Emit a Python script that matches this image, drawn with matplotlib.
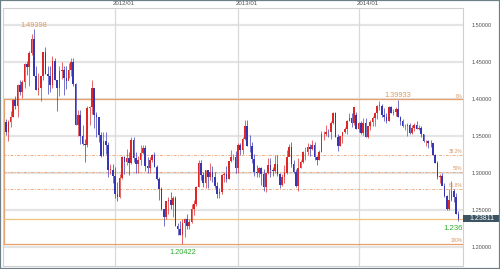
import matplotlib
matplotlib.use("Agg")
import matplotlib.pyplot as plt
import matplotlib.transforms as mtransforms
from matplotlib.patches import Rectangle
import numpy as np
import pandas as pd

# Weekly EUR/USD candles (week starting Monday)
week_start = "2011-02-07"
opens = [1.3690,1.3550,1.3695,1.3750,1.3985,1.3905,1.4183,1.4092,1.4230,1.4478,1.4430,1.4625,1.4808,1.4305,1.4118,1.4153,1.4310,1.4637,1.4340,1.4314,
         1.4190,1.4508,1.4258,1.4151,1.4383,1.4395,1.4285,1.4240,1.4390,1.4495,1.4200,1.3650,1.3790,1.3500,1.3390,1.3380,1.3880,1.3895,1.4145,1.3780,
         1.3750,1.3520,1.3235,1.3435,1.3380,1.3045,1.3045,1.2960,1.2720,1.2680,1.2930,1.3210,1.3150,1.3200,1.3140,1.3450,1.3200,1.3120,1.3180,1.3270,
         1.3340,1.3090,1.3070,1.3180,1.3240,1.3080,1.2915,1.2780,1.2515,1.2400,1.2620,1.2640,1.2570,1.2665,1.2290,1.2245,1.2160,1.2320,1.2385,1.2285,
         1.2335,1.2510,1.2580,1.2815,1.3130,1.2970,1.2860,1.3035,1.2950,1.3020,1.2940,1.2830,1.2710,1.2740,1.2975,1.2985,1.2925,1.3160,1.3215,1.3220,
         1.3070,1.3380,1.3315,1.3460,1.3640,1.3365,1.3360,1.3190,1.3010,1.3000,1.3070,1.2990,1.2815,1.2995,1.3110,1.3045,1.3030,1.3115,1.2985,1.2835,
         1.2945,1.3005,1.3220,1.3350,1.3120,1.3010,1.2830,1.3065,1.3145,1.3280,1.3280,1.3345,1.3325,1.3375,1.3220,1.3175,1.3290,1.3525,1.3525,1.3555,
         1.3550,1.3680,1.3805,1.3490,1.3365,1.3500,1.3560,1.3590,1.3705,1.3740,1.3675,1.3780,1.3590,1.3670,1.3540,1.3680,1.3485,1.3630,1.3690,1.3740,
         1.3805,1.3910,1.3910,1.3790,1.3750,1.3705,1.3890,1.3815,1.3830,1.3870,1.3755,1.3705,1.3630,1.3630,1.3645,1.3540,1.3610,1.3645,1.3595,1.3610,
         1.3525,1.3430,1.3430,1.3410,1.3405,1.3240,1.3130,1.2950,1.2960,1.2830,1.2685,1.2520,1.2630,1.2760,1.2670,1.2450]
highs = [1.3735,1.3710,1.3835,1.4000,1.4035,1.4200,1.4250,1.4250,1.4485,1.4520,1.4650,1.4880,1.4940,1.4450,1.4350,1.4310,1.4640,1.4700,1.4450,1.4450,
         1.4580,1.4560,1.4260,1.4440,1.4500,1.4450,1.4450,1.4480,1.4550,1.4550,1.4220,1.3850,1.3850,1.3650,1.3460,1.3900,1.3900,1.4250,1.4150,1.3820,
         1.3760,1.3560,1.3550,1.3550,1.3420,1.3120,1.3120,1.3080,1.2880,1.2990,1.3230,1.3230,1.3320,1.3280,1.3480,1.3486,1.3290,1.3230,1.3380,1.3385,
         1.3380,1.3210,1.3220,1.3260,1.3280,1.3110,1.2940,1.2810,1.2520,1.2625,1.2670,1.2745,1.2690,1.2690,1.2320,1.2345,1.2385,1.2390,1.2445,1.2375,
         1.2575,1.2640,1.2820,1.3170,1.3170,1.3010,1.3040,1.3045,1.3140,1.3100,1.3020,1.2880,1.2800,1.2990,1.3020,1.3100,1.3160,1.3310,1.3260,1.3300,
         1.3400,1.3400,1.3480,1.3710,1.3710,1.3520,1.3420,1.3250,1.3110,1.3080,1.3075,1.3050,1.3000,1.3200,1.3200,1.3075,1.3240,1.3240,1.3000,1.2985,
         1.3110,1.3305,1.3390,1.3415,1.3175,1.3050,1.3205,1.3170,1.3295,1.3345,1.3400,1.3390,1.3450,1.3420,1.3225,1.3310,1.3570,1.3570,1.3645,1.3590,
         1.3700,1.3830,1.3820,1.3530,1.3500,1.3560,1.3620,1.3710,1.3810,1.3810,1.3895,1.3830,1.3690,1.3700,1.3740,1.3740,1.3620,1.3710,1.3775,1.3825,
         1.3915,1.3967,1.3930,1.3880,1.3810,1.3905,1.3905,1.3870,1.3890,1.3993,1.3775,1.3730,1.3665,1.3680,1.3675,1.3645,1.3680,1.3700,1.3650,1.3635,
         1.3530,1.3445,1.3440,1.3445,1.3405,1.3250,1.3165,1.2990,1.3000,1.2860,1.2700,1.2790,1.2887,1.2790,1.2730,1.2480]
lows =  [1.3520,1.3430,1.3620,1.3750,1.3860,1.3750,1.4050,1.4020,1.4150,1.4330,1.4180,1.4600,1.4305,1.4120,1.4050,1.3970,1.4250,1.4340,1.4070,1.4100,
         1.4150,1.4260,1.3840,1.4040,1.4270,1.4050,1.4140,1.4290,1.4310,1.4170,1.3650,1.3500,1.3390,1.3380,1.3150,1.3350,1.3650,1.3800,1.3610,1.3480,
         1.3425,1.3210,1.3235,1.3260,1.2945,1.2980,1.2860,1.2660,1.2625,1.2665,1.2920,1.2980,1.3110,1.2975,1.3120,1.3150,1.3000,1.3000,1.3110,1.3250,
         1.3030,1.2995,1.3000,1.3150,1.3080,1.2910,1.2640,1.2495,1.2290,1.2380,1.2440,1.2515,1.2405,1.2290,1.2160,1.2165,1.2042,1.2135,1.2240,1.2240,
         1.2320,1.2430,1.2560,1.2810,1.2910,1.2805,1.2800,1.2800,1.2900,1.2880,1.2800,1.2660,1.2660,1.2720,1.2875,1.2880,1.2920,1.3150,1.3170,1.3000,
         1.2995,1.3240,1.3260,1.3450,1.3365,1.3290,1.3140,1.2965,1.2950,1.2950,1.2840,1.2750,1.2745,1.2990,1.2950,1.2955,1.3000,1.2955,1.2795,1.2820,
         1.2870,1.2980,1.3240,1.3085,1.3000,1.2810,1.2755,1.3065,1.3135,1.3180,1.3245,1.3230,1.3315,1.3180,1.3105,1.3180,1.3290,1.3440,1.3500,1.3480,
         1.3460,1.3665,1.3485,1.3295,1.3360,1.3400,1.3535,1.3525,1.3700,1.3625,1.3650,1.3590,1.3550,1.3530,1.3510,1.3480,1.3475,1.3580,1.3640,1.3640,
         1.3735,1.3850,1.3750,1.3705,1.3675,1.3705,1.3810,1.3790,1.3775,1.3750,1.3645,1.3620,1.3585,1.3500,1.3530,1.3525,1.3570,1.3590,1.3575,1.3485,
         1.3420,1.3365,1.3335,1.3350,1.3240,1.3130,1.2920,1.2860,1.2835,1.2680,1.2500,1.2500,1.2620,1.2610,1.2440,1.2358]
closes = [1.3550,1.3695,1.3750,1.3985,1.3905,1.4183,1.4092,1.4230,1.4478,1.4430,1.4625,1.4808,1.4305,1.4118,1.4153,1.4310,1.4637,1.4340,1.4314,1.4190,
          1.4508,1.4258,1.4151,1.4383,1.4395,1.4285,1.4240,1.4390,1.4495,1.4200,1.3650,1.3790,1.3500,1.3390,1.3380,1.3880,1.3895,1.4145,1.3780,1.3750,
          1.3520,1.3235,1.3435,1.3380,1.3045,1.3045,1.2960,1.2720,1.2680,1.2930,1.3210,1.3150,1.3200,1.3140,1.3450,1.3200,1.3120,1.3180,1.3270,1.3340,
          1.3090,1.3070,1.3180,1.3240,1.3080,1.2915,1.2780,1.2515,1.2400,1.2620,1.2640,1.2570,1.2665,1.2290,1.2245,1.2160,1.2320,1.2385,1.2285,1.2335,
          1.2510,1.2580,1.2815,1.3130,1.2970,1.2860,1.3035,1.2950,1.3020,1.2940,1.2830,1.2710,1.2740,1.2975,1.2985,1.2925,1.3160,1.3215,1.3220,1.3070,
          1.3380,1.3315,1.3460,1.3640,1.3365,1.3360,1.3190,1.3010,1.3000,1.3070,1.2990,1.2815,1.2995,1.3110,1.3045,1.3030,1.3115,1.2985,1.2835,1.2945,
          1.3005,1.3220,1.3350,1.3120,1.3010,1.2830,1.3065,1.3145,1.3280,1.3280,1.3345,1.3325,1.3375,1.3220,1.3175,1.3290,1.3525,1.3525,1.3555,1.3550,
          1.3680,1.3805,1.3490,1.3365,1.3500,1.3560,1.3590,1.3705,1.3740,1.3675,1.3895,1.3590,1.3670,1.3540,1.3680,1.3485,1.3630,1.3690,1.3740,1.3805,
          1.3910,1.3910,1.3790,1.3750,1.3705,1.3890,1.3815,1.3830,1.3870,1.3755,1.3705,1.3630,1.3630,1.3645,1.3540,1.3610,1.3645,1.3595,1.3610,1.3525,
          1.3430,1.3430,1.3410,1.3405,1.3240,1.3130,1.2950,1.2960,1.2830,1.2685,1.2520,1.2630,1.2760,1.2670,1.2450,1.23811]

y_ticks = [1.20, 1.25, 1.30, 1.35, 1.40, 1.45, 1.50]
fib_high = 1.39933
fib_low = 1.20422
fib_ratios = [0.0, 0.382, 0.5, 0.618, 1.0]
fib_labels = ["0%", "38.2%", "50%", "61.8%", "100%"]
peak_high = 1.49398
last_price = 1.23811
bid_label = "1.236"

UP = "#dd2626"
DOWN = "#3636b4"
ORANGE = "#e7a06c"
GREEN = "#2fae2f"
FONT = "Liberation Sans"

n = len(closes)
x = np.arange(n)
weeks = pd.date_range(week_start, periods=n, freq="W-MON")
o = np.array(opens); h = np.array(highs); l = np.array(lows); c = np.array(closes)

fig = plt.figure(figsize=(5, 2.69), dpi=100)
ax = fig.add_axes([3/500, 3/269, 460/500, 258/269])
ax.set_xlim(-1.3, 197)
ax.set_ylim(1.17432, 1.52297)

# grid
for yt in y_ticks:
    ax.axhline(yt, color="#e4e4e4", lw=1.6, zorder=0)
year_idx = [i for i in range(1, n) if weeks[i].year != weeks[i-1].year]
for xi in year_idx:
    ax.axvline(xi, color="#d9d9d9", lw=0.9, zorder=0)

# fibonacci levels
rng = fib_high - fib_low
for r, lab in zip(fib_ratios, fib_labels):
    lv = fib_high - r * rng
    if r in (0.0, 1.0):
        ax.axhline(lv, color=ORANGE, lw=0.9, zorder=1)
    else:
        ax.axhline(lv, color="#e8a070", lw=0.7, alpha=0.85, ls=(0, (3, 1.5, 1, 1.5)), zorder=1)
    ax.text(196.6, lv + 0.0012, lab, ha="right", va="bottom", fontsize=3.4,
            color="#d9945e", family=FONT, zorder=5)
ax.plot([-0.85, -0.85], [fib_low, fib_high], color=ORANGE, lw=0.9, zorder=1)
ax.axhline(last_price, color="#f0c27a", lw=0.9, zorder=1)

# candles
up = c >= o
cols = np.where(up, UP, DOWN)
ax.vlines(x, l, h, colors=cols, lw=0.7, alpha=0.7, zorder=3)
body_lo = np.minimum(o, c)
body_h = np.maximum(np.abs(c - o), 0.0006)
ax.bar(x, body_h, bottom=body_lo, width=0.7, color=cols, lw=0, zorder=4)

# annotations
ipk = int(np.argmax(h))
ax.annotate(f"{peak_high:.5f}", (ipk, peak_high), xytext=(0, 0.5), textcoords="offset points",
            ha="center", va="bottom", fontsize=5.3, color="#e39a5a", family=FONT)
ihi = 169
ax.annotate(f"{fib_high:.5f}", (ihi, fib_high), xytext=(0, 0.3), textcoords="offset points",
            ha="center", va="bottom", fontsize=5.3, color="#e39a5a", family=FONT)
ilo = int(np.argmin(l))
ax.annotate(f"{fib_low:.5f}", (ilo, fib_low), xytext=(0, -3.5), textcoords="offset points",
            ha="center", va="top", fontsize=5.3, color=GREEN, family=FONT)
ax.annotate(bid_label, (196.8, last_price), xytext=(0, -4.5), textcoords="offset points",
            ha="right", va="top", fontsize=5.6, color=GREEN, family=FONT)

# axes styling
for s in ax.spines.values():
    s.set_color("#cfcfcf")
    s.set_linewidth(0.8)
ax.yaxis.tick_right()
ax.set_yticks(y_ticks)
ax.set_yticklabels([f"{v:.5f}" for v in y_ticks])
ax.tick_params(axis="y", length=0, pad=6, labelsize=4, labelcolor="#505050")
ax.xaxis.tick_top()
ax.set_xticks([xi - 0.8 for xi in year_idx])
ax.set_xticklabels([weeks[i].strftime("%Y/%m") for i in year_idx])
ax.tick_params(axis="x", length=0, pad=1.2, labelsize=4.4, labelcolor="#505050")
for t in ax.get_xticklabels() + ax.get_yticklabels():
    t.set_family(FONT)
for t in ax.get_xticklabels():
    t.set_ha("left")

# last price box
trans = mtransforms.blended_transform_factory(ax.transAxes, ax.transData)
bw = 37 / 460
bh = 7.2 / 740
ax.add_patch(Rectangle((1.0, last_price - bh/2 + 0.0008), bw, bh, transform=trans,
                       facecolor="#3b5363", edgecolor="none", clip_on=False, zorder=6))
ax.text(1.0 + bw/2, last_price + 0.0008, f"{last_price:.5f}", transform=trans, ha="center",
        va="center", fontsize=5, color="white", family=FONT, zorder=7, clip_on=False)

# outer border
fig.patches.append(Rectangle((0, 0), 1, 1, transform=fig.transFigure, fill=False,
                             edgecolor="#6d7f87", lw=1.6, zorder=10))

fig.savefig("out.png", dpi=100, facecolor="white")
